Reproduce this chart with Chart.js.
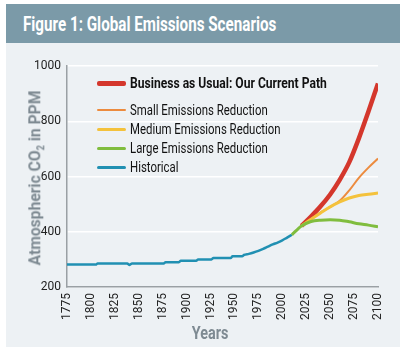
<!DOCTYPE html>
<html>
<head>
<meta charset="utf-8">
<script src="https://cdn.jsdelivr.net/npm/chart.js@4/dist/chart.umd.min.js"></script>
<style>
  body { margin: 0; background: #fff; width: 400px; height: 353px; position: relative; overflow: hidden;
         font-family: Roboto, "Liberation Sans", sans-serif; }
  #header { position: absolute; left: 6px; top: 4px; width: 394px; height: 39px; background: #7b9aa8; }
  #header h1 { position: absolute; left: 17px; top: 0; margin: 0; line-height: 40px; font-size: 20px; color: #fff;
               font-weight: bold; white-space: nowrap; transform: scaleX(0.76); transform-origin: 0 0; }
  #panel { position: absolute; left: 6px; top: 43px; width: 394px; height: 304px; background: #edf1f4; }
  #legend { position: absolute; left: 91px; top: 30px; }
  .item { position: absolute; left: 0; height: 20px; white-space: nowrap; }
  .item .swatch { position: absolute; left: 0; width: 29px; border-radius: 2px; }
  .item span { position: absolute; left: 33px; top: 0; line-height: 20px; font-size: 15px; color: #111;
               transform: scaleX(0.76); transform-origin: 0 0; }
  .item span.forte { font-weight: bold; font-size: 15.5px; transform: scaleX(0.78); }
  .titulo { position: absolute; color: #7e8a92; font-weight: bold; white-space: nowrap; }
  #tituloY { left: 32px; top: 135px; font-size: 17px; line-height: 17px;
             transform: translate(-50%, -50%) rotate(-90deg) scaleX(0.92); transform-origin: 50% 50%; }
  #tituloX { left: 204px; top: 290px; font-size: 18px; line-height: 18px;
             transform: translate(-50%, -50%) scaleX(0.8); }
</style>
</head>
<body>
<div id="header"><h1>Figure 1: Global Emissions Scenarios</h1></div>
<div id="panel">
  <canvas id="grafico" width="394" height="304"></canvas>
  <div id="legend"></div>
  <div class="titulo" id="tituloY">Atmospheric CO<sub style="font-size:10px">2</sub> in PPM</div>
  <div class="titulo" id="tituloX">Years</div>
</div>
<script>
// Historico
const anosHist = [1775, 1805, 1807, 1838, 1840, 1843, 1876, 1878, 1892, 1894, 1910, 1912, 1926, 1928,
                  1946, 1948, 1958, 1960, 1965, 1970, 1975, 1980, 1985, 1990, 1995, 2000, 2005, 2010];
const valoresHist = [281, 281, 285, 285, 280, 285, 285, 290, 290, 295, 295, 300, 300, 305,
                     305, 311, 311, 316, 320, 325, 331, 338, 346, 354, 361, 369, 379, 389];

// Cenarios
const anosCenario = [2020, 2030, 2040, 2050, 2060, 2070, 2080, 2090, 2100];
const valoresBAU = [421, 455, 492, 535, 588, 652, 738, 835, 937];
const valoresPequena = [421, 446, 470, 490, 512, 550, 595, 632, 665];
const valoresMedia = [421, 445, 468, 490, 508, 522, 531, 536, 540];
const anosGrande = [2010, 2020, 2030, 2040, 2050, 2060, 2070, 2080, 2090, 2100];
const valoresGrande = [389, 421, 437, 442, 443, 442, 436, 429, 424, 418];

const nomes = [
    "Business as Usual: Our Current Path",
    "Small Emissions Reduction",
    "Medium Emissions Reduction",
    "Large Emissions Reduction",
    "Historical",
];

function pontos(xs, ys) {
    return xs.map((x, i) => ({ x: x, y: ys[i] }));
}

const fonte = 'Roboto, "Liberation Sans", sans-serif';

const datasets = [
    { label: nomes[0], borderColor: "#d4372c", borderWidth: 4.5, data: pontos(anosCenario, valoresBAU), order: 5 },
    { label: nomes[1], borderColor: "#ec8b3e", borderWidth: 2, data: pontos(anosCenario, valoresPequena), order: 4 },
    { label: nomes[2], borderColor: "#f4c23c", borderWidth: 3, data: pontos(anosCenario, valoresMedia), order: 3 },
    { label: nomes[3], borderColor: "#80bd3e", borderWidth: 3, data: pontos(anosGrande, valoresGrande), order: 1 },
    { label: nomes[4], borderColor: "#2190b2", borderWidth: 2.5, data: pontos(anosHist, valoresHist), order: 2 },
];
datasets.forEach(d => {
    d.backgroundColor = d.borderColor;
    d.pointRadius = 0;
    d.cubicInterpolationMode = "monotone";
    d.fill = false;
});

const config = {
    type: "line",
    data: { datasets: datasets },
    options: {
        responsive: false,
        animation: false,
        layout: { padding: { top: 23, right: 22, bottom: 6, left: 0 } },
        plugins: { legend: { display: false }, tooltip: { enabled: false } },
        scales: {
            x: {
                type: "linear",
                min: 1775,
                max: 2100,
                ticks: {
                    stepSize: 25,
                    minRotation: 90,
                    maxRotation: 90,
                    autoSkip: false,
                    color: "#222",
                    padding: 6,
                    font: { family: fonte, size: 12 },
                    callback: v => String(v),
                },
                grid: { display: false, drawTicks: false },
                border: { display: true, color: "#9aa0a4", width: 1.5 },
                afterFit: s => { s.height = 54; },
            },
            y: {
                min: 200,
                max: 1000,
                ticks: {
                    stepSize: 200,
                    color: "#222",
                    padding: 6,
                    font: { family: fonte, size: 12 },
                    callback: v => String(v),
                },
                grid: { color: "#ffffff", lineWidth: 1.5, drawTicks: false },
                border: { display: true, color: "#9aa0a4", width: 1.5 },
                afterFit: s => { s.width = 61; },
            },
        },
    },
};

var grafico = new Chart(document.getElementById("grafico"), config);

// Legenda
const legendaY = [0, 27, 46, 65, 84];
const legenda = document.getElementById("legend");
datasets.forEach((d, i) => {
    const item = document.createElement("div");
    item.className = "item";
    item.style.top = legendaY[i] + "px";
    const sw = document.createElement("div");
    sw.className = "swatch";
    sw.style.background = d.borderColor;
    sw.style.height = Math.round(d.borderWidth) + "px";
    sw.style.top = (10 - Math.round(d.borderWidth) / 2) + "px";
    const txt = document.createElement("span");
    txt.textContent = d.label;
    if (i === 0) txt.className = "forte";
    item.appendChild(sw);
    item.appendChild(txt);
    legenda.appendChild(item);
});
</script>
</body>
</html>
